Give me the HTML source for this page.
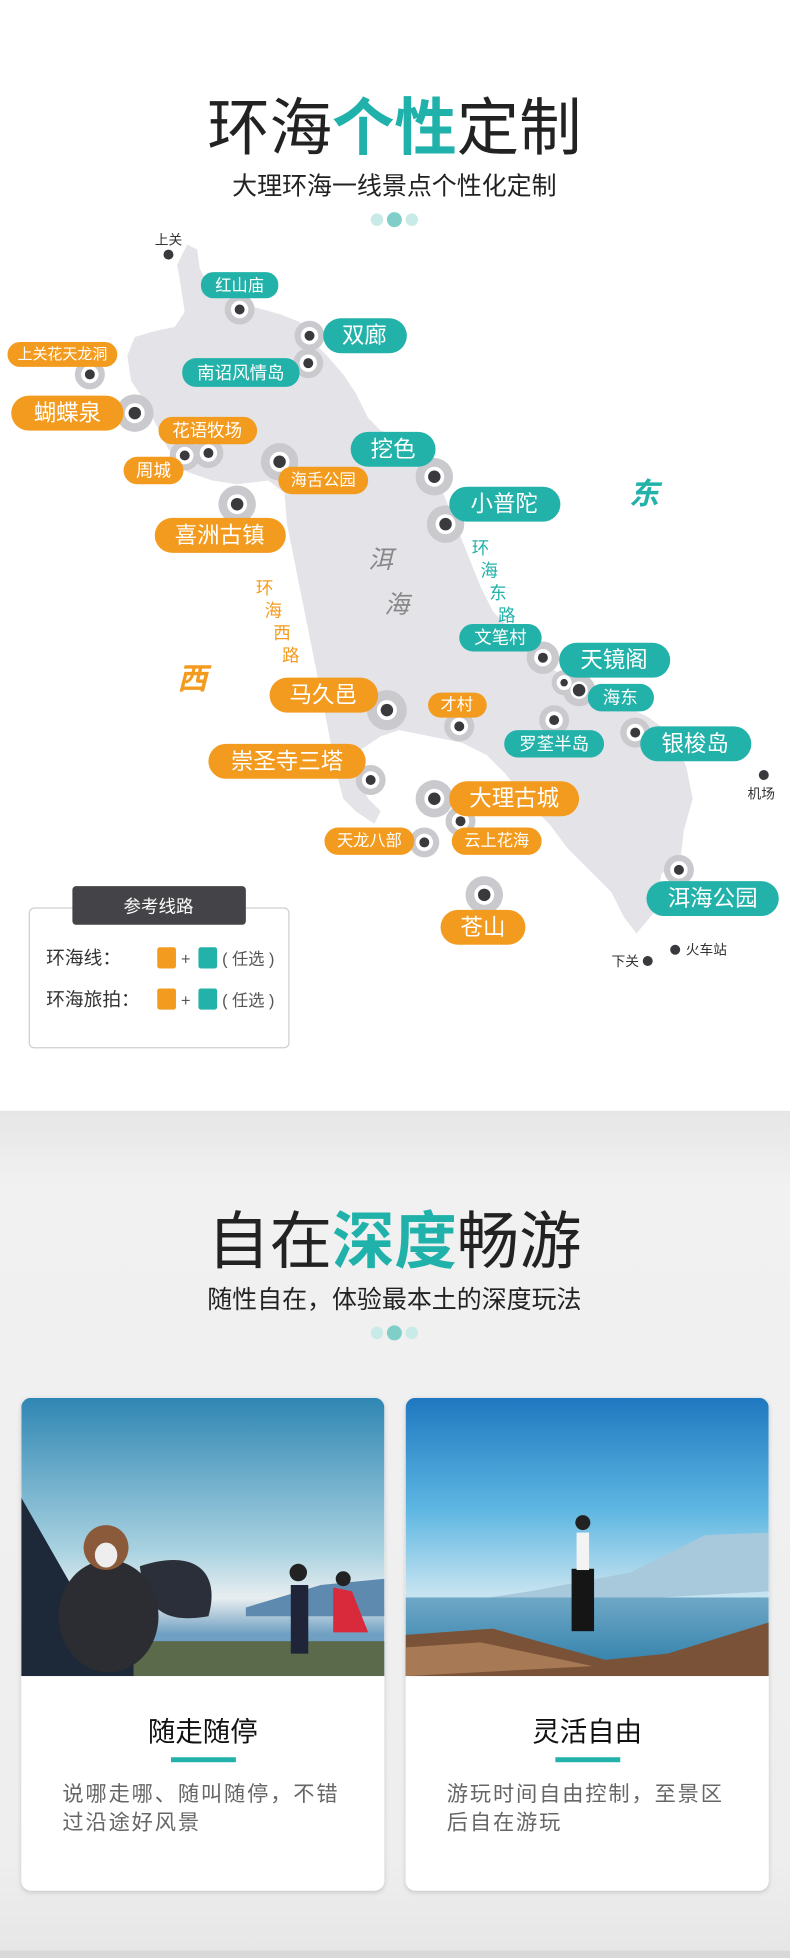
<!DOCTYPE html>
<html><head><meta charset="utf-8">
<style>
html,body{margin:0;padding:0;width:790px;height:1958px;overflow:hidden;background:#fff;}
#w{position:absolute;left:0;top:0;width:633px;height:1569px;transform:scale(1.24803);transform-origin:0 0;font-family:"Liberation Sans","Noto Sans CJK SC",sans-serif;}
svg text{font-family:"Liberation Sans","Noto Sans CJK SC",sans-serif;}
.card{position:absolute;top:1120px;width:291px;height:395px;background:#fff;border-radius:8px;box-shadow:0 1px 4px rgba(0,0,0,0.15);overflow:hidden;}
.card .img{position:absolute;left:0;top:0;width:291px;height:223px;}
.ct{position:absolute;left:0;width:291px;top:250px;text-align:center;font-size:22px;color:#111;}
.ul{position:absolute;left:120px;top:288px;width:52px;height:4px;background:#22b2a9;}
.cd{position:absolute;left:33px;top:306px;width:236px;font-size:17px;letter-spacing:1.5px;line-height:23px;color:#666;}
</style></head><body>
<div id="w">
<div style="position:absolute;left:0;top:890px;width:633px;height:679px;background:linear-gradient(#e6e6e6,#f1f1f1 60px,#eeeeee 600px,#e6e6e6);"></div>
<div style="position:absolute;left:0;top:1563px;width:633px;height:6px;background:#d8d8d8;"></div>
<svg width="633" height="1569" style="position:absolute;left:0;top:0" xmlns="http://www.w3.org/2000/svg">
<text x="316" y="120" text-anchor="middle" font-size="50" fill="#222">环海<tspan fill="#20b2aa" font-weight="bold">个性</tspan>定制</text>
<text x="316" y="156" text-anchor="middle" font-size="20" fill="#222">大理环海一线景点个性化定制</text>
<circle cx="302" cy="176" r="5" fill="#c8ebe8"/><circle cx="316" cy="176" r="6" fill="#7fcfc8"/><circle cx="330" cy="176" r="5" fill="#c8ebe8"/>
<polygon fill="#e3e3e8" points="142,212 150,196 158,200 160,215 170,235 185,240 200,245 225,252 240,258 252,275 262,285 275,300 285,315 295,335 305,345 320,350 335,370 345,380 355,395 365,420 375,445 385,470 395,490 410,505 425,520 440,535 460,545 480,555 500,565 520,575 540,590 550,615 555,640 548,665 545,690 530,700 525,730 510,748 500,735 490,715 475,700 455,680 440,660 420,640 405,620 390,605 370,595 345,590 320,585 305,590 290,600 285,620 295,640 305,650 300,660 285,650 275,640 270,620 265,595 260,570 255,545 250,520 245,495 240,470 235,445 230,420 228,395 215,385 190,388 170,385 150,378 135,360 125,340 115,320 105,305 102,285 108,270 125,265 140,262 148,250 145,230"/>
<g fill="#c9c9ce">
<circle cx="192" cy="248" r="12"/><circle cx="248" cy="269" r="12"/><circle cx="247" cy="291" r="12"/><circle cx="72" cy="300" r="12"/><circle cx="108" cy="331" r="15"/><circle cx="148" cy="365" r="12"/><circle cx="167" cy="363" r="12"/><circle cx="224" cy="370" r="15"/><circle cx="348" cy="382" r="15"/><circle cx="190" cy="404" r="15"/><circle cx="357" cy="420" r="15"/><circle cx="435" cy="527" r="13"/><circle cx="452" cy="547" r="10"/><circle cx="464" cy="553" r="13"/><circle cx="444" cy="577" r="12"/><circle cx="509" cy="587" r="12"/><circle cx="310" cy="569" r="16"/><circle cx="368" cy="582" r="12"/><circle cx="297" cy="625" r="12"/><circle cx="348" cy="640" r="15"/><circle cx="369" cy="658" r="12"/><circle cx="340" cy="675" r="12"/><circle cx="544" cy="697" r="12"/><circle cx="388" cy="717" r="15"/>
</g>
<g fill="#fff">
<circle cx="192" cy="248" r="7"/><circle cx="248" cy="269" r="7"/><circle cx="247" cy="291" r="7"/><circle cx="72" cy="300" r="7"/><circle cx="108" cy="331" r="8"/><circle cx="148" cy="365" r="7"/><circle cx="167" cy="363" r="7"/><circle cx="224" cy="370" r="8"/><circle cx="348" cy="382" r="8"/><circle cx="190" cy="404" r="8"/><circle cx="357" cy="420" r="8"/><circle cx="435" cy="527" r="7"/><circle cx="452" cy="547" r="6"/><circle cx="464" cy="553" r="7"/><circle cx="444" cy="577" r="7"/><circle cx="509" cy="587" r="7"/><circle cx="310" cy="569" r="8"/><circle cx="368" cy="582" r="7"/><circle cx="297" cy="625" r="7"/><circle cx="348" cy="640" r="8"/><circle cx="369" cy="658" r="7"/><circle cx="340" cy="675" r="7"/><circle cx="544" cy="697" r="7"/><circle cx="388" cy="717" r="8"/>
</g>
<g fill="#3a3a3e">
<circle cx="192" cy="248" r="4"/><circle cx="248" cy="269" r="4"/><circle cx="247" cy="291" r="4"/><circle cx="72" cy="300" r="4"/><circle cx="108" cy="331" r="5"/><circle cx="148" cy="365" r="4"/><circle cx="167" cy="363" r="4"/><circle cx="224" cy="370" r="5"/><circle cx="348" cy="382" r="5"/><circle cx="190" cy="404" r="5"/><circle cx="357" cy="420" r="5"/><circle cx="435" cy="527" r="4"/><circle cx="452" cy="547" r="3"/><circle cx="464" cy="553" r="5"/><circle cx="444" cy="577" r="4"/><circle cx="509" cy="587" r="4"/><circle cx="310" cy="569" r="5"/><circle cx="368" cy="582" r="4"/><circle cx="297" cy="625" r="4"/><circle cx="348" cy="640" r="5"/><circle cx="369" cy="658" r="4"/><circle cx="340" cy="675" r="4"/><circle cx="544" cy="697" r="4"/><circle cx="388" cy="717" r="5"/>
<circle cx="135" cy="204" r="4"/><circle cx="612" cy="621" r="4"/><circle cx="519" cy="770" r="4"/><circle cx="541" cy="761" r="4"/>
</g>
<g font-size="11" fill="#333">
<text x="135" y="196" text-anchor="middle">上关</text>
<text x="610" y="640" text-anchor="middle">机场</text>
<text x="501" y="774" text-anchor="middle">下关</text>
<text x="566" y="765" text-anchor="middle">火车站</text>
</g>
<g fill="#22b2a9">
<rect x="161" y="218" width="62" height="21" rx="10"/>
<rect x="259" y="255" width="67" height="28" rx="14"/>
<rect x="146" y="287" width="94" height="23" rx="11"/>
<rect x="281" y="346" width="68" height="28" rx="14"/>
<rect x="360" y="390" width="89" height="28" rx="14"/>
<rect x="368" y="500" width="66" height="22" rx="11"/>
<rect x="448" y="515" width="89" height="28" rx="14"/>
<rect x="471" y="548" width="53" height="22" rx="11"/>
<rect x="404" y="585" width="80" height="22" rx="11"/>
<rect x="513" y="582" width="89" height="28" rx="14"/>
<rect x="518" y="706" width="106" height="28" rx="14"/>
</g>
<g fill="#f39b1e">
<rect x="6" y="274" width="88" height="20" rx="10"/>
<rect x="9" y="317" width="90" height="28" rx="14"/>
<rect x="127" y="334" width="79" height="22" rx="11"/>
<rect x="99" y="366" width="48" height="22" rx="11"/>
<rect x="223" y="374" width="72" height="22" rx="11"/>
<rect x="124" y="415" width="105" height="28" rx="14"/>
<rect x="216" y="543" width="87" height="28" rx="14"/>
<rect x="343" y="555" width="47" height="20" rx="10"/>
<rect x="167" y="596" width="126" height="28" rx="14"/>
<rect x="360" y="626" width="104" height="28" rx="14"/>
<rect x="260" y="663" width="72" height="22" rx="11"/>
<rect x="362" y="663" width="72" height="22" rx="11"/>
<rect x="353" y="729" width="68" height="28" rx="14"/>
</g>
<g fill="#fff" text-anchor="middle" dominant-baseline="central">
<text x="192" y="229" font-size="13">红山庙</text>
<text x="292" y="269" font-size="18">双廊</text>
<text x="193" y="299" font-size="14">南诏风情岛</text>
<text x="315" y="360" font-size="18">挖色</text>
<text x="404" y="404" font-size="18">小普陀</text>
<text x="401" y="511" font-size="14">文笔村</text>
<text x="492" y="529" font-size="18">天镜阁</text>
<text x="497" y="559" font-size="14">海东</text>
<text x="444" y="596" font-size="14">罗荃半岛</text>
<text x="557" y="596" font-size="18">银梭岛</text>
<text x="571" y="720" font-size="18">洱海公园</text>
<text x="50" y="284" font-size="12">上关花天龙洞</text>
<text x="54" y="331" font-size="18">蝴蝶泉</text>
<text x="166" y="345" font-size="14">花语牧场</text>
<text x="123" y="377" font-size="14">周城</text>
<text x="259" y="385" font-size="13">海舌公园</text>
<text x="176" y="429" font-size="18">喜洲古镇</text>
<text x="259" y="557" font-size="18">马久邑</text>
<text x="366" y="565" font-size="13">才村</text>
<text x="230" y="610" font-size="18">崇圣寺三塔</text>
<text x="412" y="640" font-size="18">大理古城</text>
<text x="296" y="674" font-size="13">天龙八部</text>
<text x="398" y="674" font-size="13">云上花海</text>
<text x="387" y="743" font-size="18">苍山</text>
</g>
<text x="516" y="404" font-size="24" font-weight="bold" font-style="italic" fill="#22b2a9" text-anchor="middle">东</text>
<text x="154" y="552" font-size="24" font-weight="bold" font-style="italic" fill="#f39b1e" text-anchor="middle">西</text>
<text x="305" y="455" font-size="20" font-style="italic" fill="#888" text-anchor="middle">洱</text>
<text x="318" y="491" font-size="20" font-style="italic" fill="#888" text-anchor="middle">海</text>
<g font-size="14" fill="#22b2a9" text-anchor="middle">
<text x="385" y="444">环</text><text x="392" y="462">海</text><text x="399" y="480">东</text><text x="406" y="498">路</text>
</g>
<g font-size="14" fill="#f39b1e" text-anchor="middle">
<text x="212" y="476">环</text><text x="219" y="494">海</text><text x="226" y="512">西</text><text x="233" y="530">路</text>
</g>
<rect x="23.5" y="727.5" width="208" height="112" rx="4" fill="#fff" stroke="#cfcfcf"/>
<rect x="58" y="710" width="139" height="31" rx="3" fill="#444448"/>
<text x="127" y="731" font-size="14" fill="#fff" text-anchor="middle">参考线路</text>
<g font-size="15" fill="#333"><text x="37" y="773">环海线：</text><text x="37" y="806">环海旅拍：</text></g>
<rect x="126" y="759" width="15" height="17" rx="2" fill="#f39b1e"/><rect x="159" y="759" width="15" height="17" rx="2" fill="#22b2a9"/>
<rect x="126" y="792" width="15" height="17" rx="2" fill="#f39b1e"/><rect x="159" y="792" width="15" height="17" rx="2" fill="#22b2a9"/>
<g font-size="13" fill="#555"><text x="145" y="773">+</text><text x="178" y="773">( 任选 )</text><text x="145" y="806">+</text><text x="178" y="806">( 任选 )</text></g>
<text x="316" y="1012" text-anchor="middle" font-size="50" fill="#222">自在<tspan fill="#20b2aa" font-weight="bold">深度</tspan>畅游</text>
<text x="316" y="1048" text-anchor="middle" font-size="20" fill="#222">随性自在，体验最本土的深度玩法</text>
<circle cx="302" cy="1068" r="5" fill="#c8ebe8"/><circle cx="316" cy="1068" r="6" fill="#7fcfc8"/><circle cx="330" cy="1068" r="5" fill="#c8ebe8"/>
</svg>
<div class="card" style="left:17px">
<svg class="img" width="291" height="223">
<defs><linearGradient id="g1" x1="0" y1="0" x2="0" y2="1"><stop offset="0" stop-color="#2f86b3"/><stop offset="0.55" stop-color="#a9d2e0"/><stop offset="0.72" stop-color="#e8eef0"/><stop offset="0.85" stop-color="#6f9fc2"/></linearGradient></defs>
<rect width="291" height="223" fill="url(#g1)"/>
<polygon points="180,168 240,150 291,145 291,175 180,175" fill="#5f8ab0"/>
<rect x="90" y="195" width="201" height="28" fill="#5b6a4a"/>
<polygon points="0,80 40,150 90,200 90,223 0,223" fill="#1d2838"/>
<path d="M95,135 C140,120 160,140 150,175 C120,180 100,175 95,135Z" fill="#2a2f3a"/>
<ellipse cx="70" cy="175" rx="40" ry="45" fill="#2b2d33"/>
<circle cx="68" cy="120" r="18" fill="#8b5a3a"/><ellipse cx="68" cy="126" rx="9" ry="10" fill="#eee"/>
<rect x="216" y="150" width="14" height="55" fill="#1f2438"/><circle cx="222" cy="140" r="7" fill="#222"/>
<polygon points="250,152 265,155 278,188 250,188" fill="#d82a3a"/><circle cx="258" cy="145" r="6" fill="#222"/>
</svg>
<div class="ct">随走随停</div><div class="ul"></div>
<div class="cd">说哪走哪、随叫随停，不错过沿途好风景</div>
</div>
<div class="card" style="left:325px">
<svg class="img" width="291" height="223">
<defs><linearGradient id="g2" x1="0" y1="0" x2="0" y2="1"><stop offset="0" stop-color="#1f78c0"/><stop offset="0.4" stop-color="#5db6e2"/><stop offset="0.7" stop-color="#c5e3f0"/></linearGradient>
<linearGradient id="s2" x1="0" y1="0" x2="0" y2="1"><stop offset="0" stop-color="#6fa7c6"/><stop offset="1" stop-color="#2a7da8"/></linearGradient></defs>
<rect width="291" height="223" fill="url(#g2)"/>
<polygon points="0,170 100,155 180,140 240,110 291,108 291,155 0,172" fill="#a8c8dc"/>
<rect x="0" y="160" width="291" height="63" fill="url(#s2)"/>
<polygon points="0,190 70,185 160,210 210,205 291,180 291,223 0,223" fill="#7a5238"/>
<polygon points="0,200 60,196 150,215 0,223" fill="#a77a55"/>
<rect x="133" y="137" width="18" height="50" fill="#151515"/><rect x="137" y="108" width="10" height="30" fill="#f3f3f3"/><circle cx="142" cy="100" r="6" fill="#222"/>
</svg>
<div class="ct">灵活自由</div><div class="ul"></div>
<div class="cd">游玩时间自由控制，至景区后自在游玩</div>
</div>
</div>
</body></html>
